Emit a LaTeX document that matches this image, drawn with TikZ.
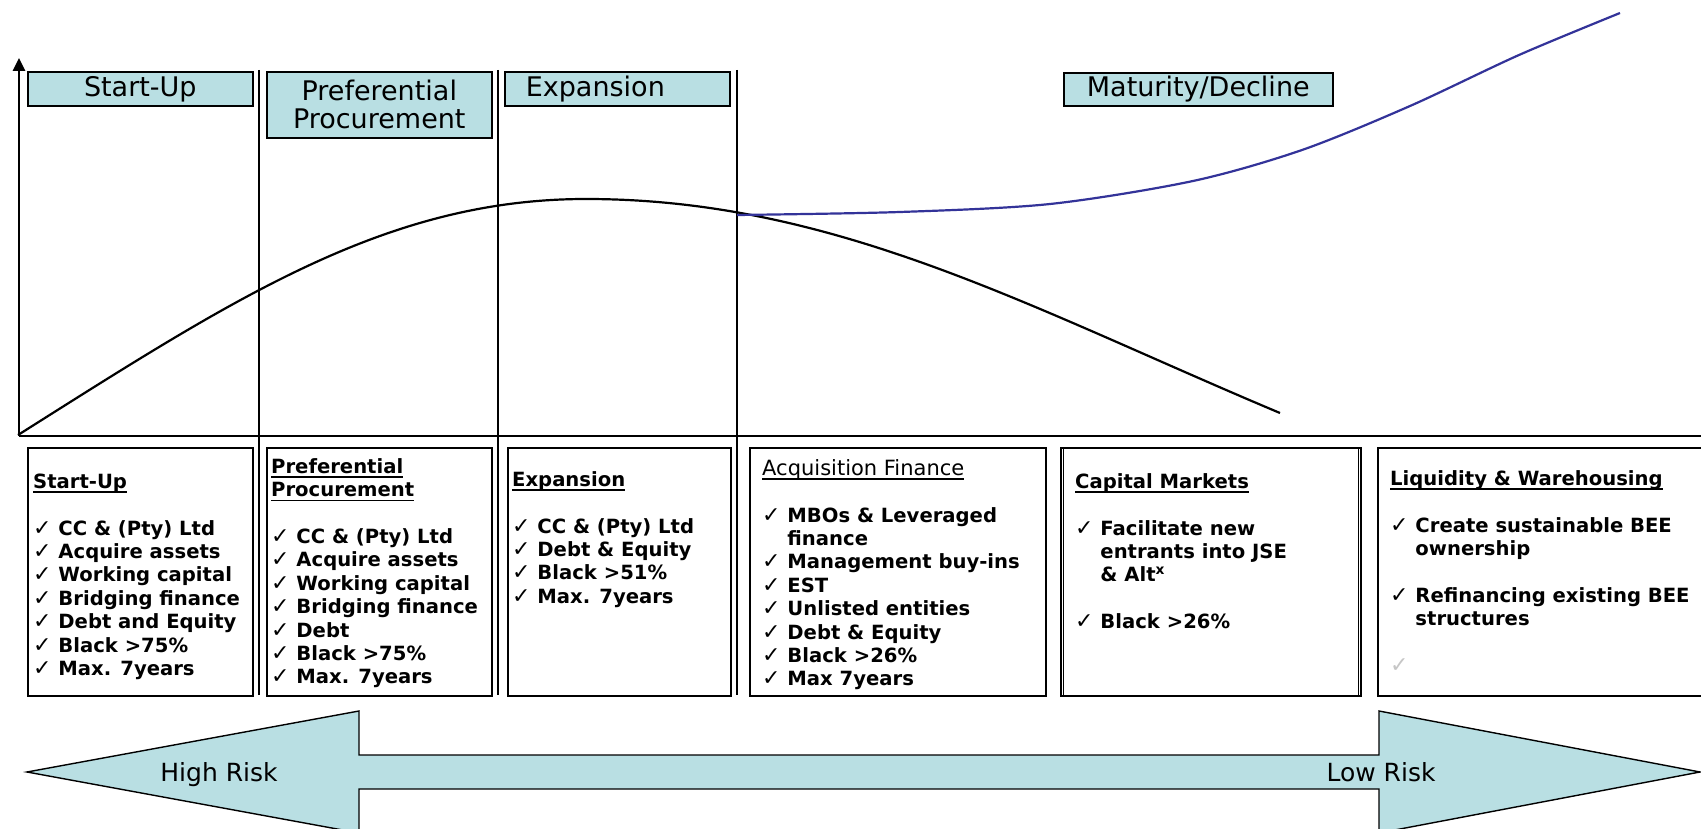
\documentclass[tikz,border=0pt]{standalone}
\usepackage{fontspec}
\setmainfont{DejaVu Sans}
\newfontfamily\symfont{DejaVu Sans}
\usetikzlibrary{arrows.meta}
\definecolor{boxfill}{RGB}{185,223,227}
\definecolor{curveblue}{RGB}{51,51,153}
\newcommand{\ck}{{\symfont\mdseries\fontsize{22}{23.4}\selectfont\char"2713}\ }
\newcommand{\ckind}{\hphantom{\ck}}
\newcommand{\hul}[1]{\setbox0\hbox{#1}\rlap{\rule[-4.5pt]{\wd0}{1.6pt}}\box0}
\begin{document}
\begin{tikzpicture}[x=1pt,y=-1pt,
  hdr/.style={draw, fill=boxfill, line width=1.6pt, inner sep=0pt, anchor=north west,
              font=\fontsize{27}{28}\selectfont},
  bbox/.style={draw, line width=1.6pt, inner sep=0pt, anchor=north west},
  txt/.style={anchor=north west, inner sep=0pt, align=left,
              font=\fontsize{19.6}{23.4}\selectfont\bfseries},
  divider/.style={line width=1.6pt},
  axis/.style={line width=2.6pt},
  riskarrow/.style={draw, fill=boxfill, line width=1.4pt},
  risklabel/.style={inner sep=0pt, anchor=base, font=\fontsize{25}{28}\selectfont}]
\useasboundingbox (0,0) rectangle (1701,829);
\fill[white] (0,0) rectangle (1701,829);

% axes
\coordinate (O) at (19,436);
\coordinate (Ytop) at (19,58);
\coordinate (Xend) at (1710,436);
\draw[axis, -{Triangle[width=12pt,length=13pt]}] (O) -- (Ytop);
\draw[axis] (O) -- (Xend);

% dividers
\foreach \x/\n in {259/da,498/db,737/dc}{
  \coordinate (\n top) at (\x,70);
  \coordinate (\n bot) at (\x,695);
  \draw[divider] (\n top) -- (\n bot);
}

% curves
\coordinate (c0) at (18,435);
\coordinate (cpk) at (586,199);
\coordinate (cend) at (1280,413);
\draw[line width=2.2pt] (c0) .. controls (235,298) and (386,199) .. (cpk)
  .. controls (836,199) and (1030,308) .. (cend);
\draw[line width=2.2pt, curveblue] plot[smooth, tension=0.5] coordinates
  {(737,215) (900,212) (1050,204) (1193,181) (1302,150)
   (1410,106) (1519,55) (1620,13)};

% header boxes
\node[hdr, minimum width=225pt, minimum height=34pt] (hS) at (27,71) {Start-Up};
\node[hdr, minimum width=225pt, minimum height=66pt, align=center] (hP) at (266,71)
  {Preferential\\Procurement};
\node[hdr, minimum width=225pt, minimum height=34pt, text width=225pt, align=left] (hE) at (504,71)
  {\hspace*{21pt}Expansion};
\node[hdr, minimum width=269pt, minimum height=33pt] (hM) at (1063,72) {Maturity/Decline};

% bottom boxes
\node[bbox, minimum width=225pt, minimum height=248pt] (b1) at (27,447) {};
\node[bbox, minimum width=225pt, minimum height=248pt] (b2) at (266,447) {};
\node[bbox, minimum width=223pt, minimum height=248pt] (b3) at (507,447) {};
\node[bbox, minimum width=296pt, minimum height=248pt] (b4) at (749,447) {};
\node[bbox, minimum width=300pt, minimum height=248pt] (b5) at (1060,447) {};
\draw[line width=1pt] ([xshift=3pt]b5.north west) -- ([xshift=3pt]b5.south west);
\draw[line width=1pt] ([xshift=-3pt]b5.north east) -- ([xshift=-3pt]b5.south east);
\node[bbox, minimum width=343pt, minimum height=248pt] (b6) at (1377,447) {};

% box texts
\node[txt] (t1) at (33,471.7) {\strut\hul{Start-Up}\\ \mbox{}\\
  \ck CC \& (Pty) Ltd\\ \ck Acquire assets\\ \ck Working capital\\
  \ck Bridging finance\\ \ck Debt and Equity\\ \ck Black >75\%\\ \ck Max. 7years};
\node[txt] (t2) at (271,456.7) {\strut\hul{Preferential}\\ \hul{Procurement}\\ \mbox{}\\
  \ck CC \& (Pty) Ltd\\ \ck Acquire assets\\ \ck Working capital\\
  \ck Bridging finance\\ \ck Debt\\ \ck Black >75\%\\ \ck Max. 7years};
\node[txt] (t3) at (512,469.7) {\strut\hul{Expansion}\\ \mbox{}\\
  \ck CC \& (Pty) Ltd\\ \ck Debt \& Equity\\ \ck Black >51\%\\ \ck Max. 7years};
\node[txt] (t4) at (762,458.7) {\strut{\mdseries\fontsize{21}{23.4}\selectfont\hul{Acquisition Finance}}\\ \mbox{}\\
  \ck MBOs \& Leveraged\\ \ckind finance\\ \ck Management buy-ins\\ \ck EST\\
  \ck Unlisted entities\\ \ck Debt \& Equity\\ \ck Black >26\%\\ \ck Max 7years};
\node[txt] (t5) at (1075,471.7) {\strut\hul{Capital Markets}\\ \mbox{}\\
  \ck Facilitate new\\ \ckind entrants into JSE\\ \ckind \& Alt\textsuperscript{x}\\ \mbox{}\\
  \ck Black >26\%};
\node[txt] (t6) at (1390,468.7) {\strut\hul{Liquidity \& Warehousing}\\ \mbox{}\\
  \ck Create sustainable BEE\\ \ckind ownership\\ \mbox{}\\
  \ck Refinancing existing BEE\\ \ckind structures\\ \mbox{}\\
  {\color{gray!45}\ck}};

% risk arrow
\draw[riskarrow] (27,772) -- (359,711) -- (359,755) -- (1379,755) -- (1379,711)
  -- (1700,772) -- (1379,833) -- (1379,789) -- (359,789) -- (359,833) -- cycle;
\node[risklabel] (hr) at (219,781) {High Risk};
\node[risklabel] (lr) at (1381,781) {Low Risk};
\end{tikzpicture}
\end{document}
